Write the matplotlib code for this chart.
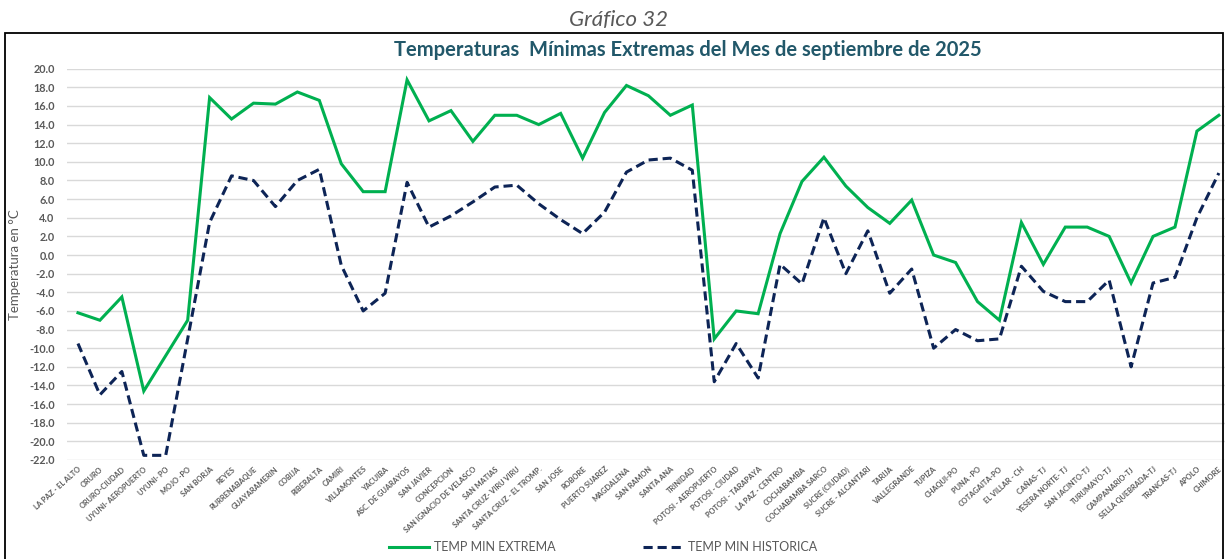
import matplotlib
matplotlib.use("Agg")
import matplotlib.pyplot as plt
from matplotlib.patches import Rectangle
from matplotlib.lines import Line2D

plt.rcParams['font.family'] = ['Lato', 'DejaVu Sans']

estaciones = [
    "LA PAZ - EL ALTO", "ORURO", "ORURO-CIUDAD", "UYUNI- AEROPUERTO", "UYUNI- PO",
    "MOJO -PO", "SAN BORJA", "REYES", "RURRENABAQUE", "GUAYARAMERIN", "COBIJA",
    "RIBERALTA", "CAMIRI", "VILLAMONTES", "YACUIBA", "ASC. DE GUARAYOS",
    "SAN JAVIER", "CONCEPCION", "SAN IGNACIO DE VELASCO", "SAN MATIAS",
    "SANTA CRUZ- VIRU VIRU", "SANTA CRUZ - EL TROMP.", "SAN JOSE", "ROBORE",
    "PUERTO SUAREZ", "MAGDALENA", "SAN RAMON", "SANTA ANA", "TRINIDAD",
    "POTOSI - AEROPUERTO", "POTOSI - CIUDAD", "POTOSI - TARAPAYA",
    "LA PAZ - CENTRO", "COCHABAMBA", "COCHABAMBA SARCO", "SUCRE (CIUDAD)",
    "SUCRE - ALCANTARI", "TARIJA", "VALLEGRANDE", "TUPIZA", "CHAQUI-PO",
    "PUNA -PO", "COTAGAITA-PO", "EL VILLAR - CH", "CAÑAS- TJ", "YESERA NORTE- TJ",
    "SAN JACINTO-TJ", "TURUMAYO-TJ", "CAMPANARIO-TJ", "SELLA QUEBRADA-TJ",
    "TRANCAS-TJ", "APOLO", "CHIMORE",
]

temp_min_extrema = [
    -6.2, -7.0, -4.5, -14.6, -10.8, -7.0,
    16.9, 14.6, 16.3, 16.2, 17.5, 16.6,
    9.8, 6.8, 6.8, 18.8,
    14.4, 15.5, 12.2, 15.0, 15.0, 14.0, 15.2, 10.4, 15.3, 18.2, 17.1, 15.0, 16.1,
    -9.0, -6.0, -6.3, 2.3, 7.9,
    10.5, 7.4, 5.1, 3.4, 5.9, 0.0, -0.8, -5.0, -7.0,
    3.5, -1.0, 3.0, 3.0, 2.0, -3.0, 2.0, 3.0, 13.3, 15.0,
]

temp_min_historica = [
    -9.5, -15.0, -12.5, -21.5, -21.5, -9.0,
    3.5, 8.5, 8.0, 5.2, 8.0, 9.2,
    -1.1, -6.0, -4.1, 7.8,
    3.0, 4.2, 5.7, 7.3, 7.5, 5.5, 3.8, 2.3, 4.6, 8.9, 10.2, 10.4, 9.1,
    -13.6, -9.5, -13.2, -1.0, -3.1,
    4.0, -2.0, 2.6, -4.1, -1.5, -10.0, -8.0, -9.2, -9.0,
    -1.2, -3.9, -5.0, -5.0, -2.7, -12.0, -3.0, -2.4, 4.0, 8.8,
]

GREEN = "#00B050"
NAVY = "#0D2456"
GRAY = "#595959"
TITLE = "#22586A"

W, H = 1225, 559
fig = plt.figure(figsize=(W / 100, H / 100), dpi=100)

# outer frame of the chart block
fig.patches.append(Rectangle((5 / W, -0.02), (1223 - 5) / W, 1 - 33 / H + 0.02,
                             transform=fig.transFigure, fill=False,
                             edgecolor="black", linewidth=1.3))

fig.text(619 / W, 1 - 20 / H, "Gráfico 32", ha="center", va="center",
         fontsize=16, style="italic", color=GRAY)
fig.text(688 / W, 1 - 50 / H, "Temperaturas  Mínimas Extremas del Mes de septiembre de 2025",
         ha="center", va="center", fontsize=14.5, fontweight="bold", color=TITLE)

ax_left, ax_right = 67, 1225
ax_top, ax_bot = 68.7, 460
ax = fig.add_axes([ax_left / W, 1 - ax_bot / H, (ax_right - ax_left) / W,
                   (ax_bot - ax_top) / H])

x = list(range(len(estaciones)))
ax.plot(x, temp_min_extrema, color=GREEN, linewidth=2.2,
        solid_joinstyle="miter", label="TEMP MIN EXTREMA")
ax.plot(x, temp_min_historica, color=NAVY, linewidth=2.2,
        dashes=(3, 1.6), label="TEMP MIN HISTORICA")

ax.set_xlim(-0.5, 52.28)
ax.set_ylim(-22, 20)
ax.set_yticks([v for v in range(-22, 21, 2)])
ax.set_yticklabels([f"{v:.1f}" for v in range(-22, 21, 2)])
ax.set_xticks(x)
ax.set_xticklabels(estaciones, rotation=42, ha="right", rotation_mode="anchor",
                   fontsize=5.3, color=GRAY, fontweight="bold")

ax.tick_params(axis="y", length=0, pad=9, labelsize=7.8, labelcolor=GRAY)
ax.tick_params(axis="x", length=0, pad=4)
for lab in ax.get_yticklabels():
    lab.set_fontweight("bold")

ax.grid(axis="y", color="#D9D9D9", linewidth=1.0)
ax.set_axisbelow(True)
for s in ax.spines.values():
    s.set_visible(False)

ax.set_ylabel("Temperatura en °C", fontsize=9.5, color=GRAY, labelpad=6)

handles = [Line2D([], [], color=GREEN, linewidth=2.2),
           Line2D([], [], color=NAVY, linewidth=2.2, dashes=(3, 1.6))]
fig.legend(handles, ["TEMP MIN EXTREMA", "TEMP MIN HISTORICA"],
           loc="center", bbox_to_anchor=(603 / W, 1 - 547 / H), ncol=2,
           frameon=False, fontsize=9, labelcolor=GRAY, handlelength=3.2,
           handletextpad=0.4, columnspacing=7.0)

fig.savefig("out.png", dpi=100)
